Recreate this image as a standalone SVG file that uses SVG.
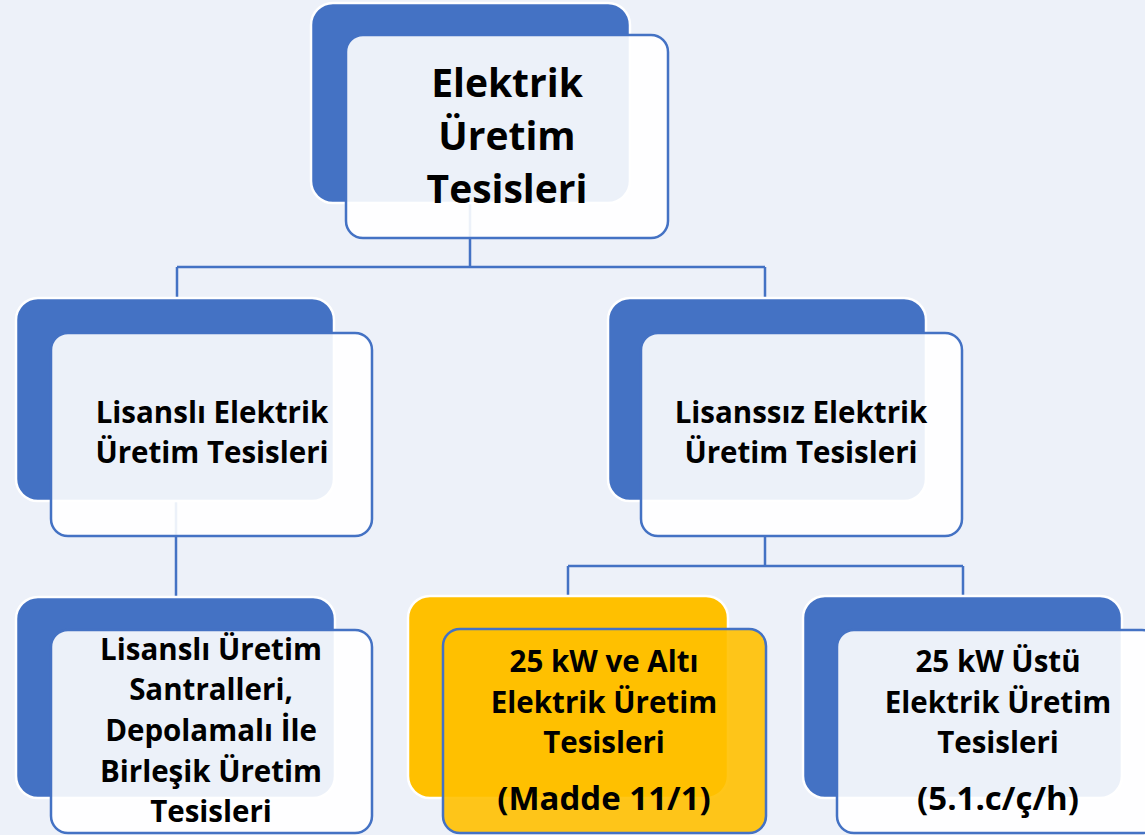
<svg xmlns="http://www.w3.org/2000/svg" width="1145" height="835" viewBox="0 0 1145 835">
<style>
.back{fill:#4472C4;stroke:#FFFFFF;stroke-width:2.5}
.backY{fill:#FFC000;stroke:#FFFFFF;stroke-width:2.5}
.front{fill:#FFFFFF;fill-opacity:0.9;stroke:#4472C4;stroke-width:2.5}
.frontY{fill:#FFC000;fill-opacity:0.9;stroke:#4472C4;stroke-width:2.5}
.conn{fill:none;stroke:#4472C4;stroke-width:2.5}
text{font-family:"Open Sans","Noto Sans","DejaVu Sans",sans-serif;font-weight:bold;fill:#000000;text-anchor:middle}
.big{font-size:39px}
.mid{font-size:29.5px}
.par{font-size:33px}
</style>
<rect width="1145" height="835" fill="#EDF1F9"/>
<g id="connectors">
<path class="conn" d="M470 203 V267 M177 267 H765 M177 267 V298 M765 267 V298"/>
<path class="conn" d="M176 500 V597"/>
<path class="conn" d="M765 536 V566 M568 566 H963 M568 566 V596 M963 566 V596"/>
</g>
<g id="node-root">
<rect class="back" x="311" y="3" width="319" height="200" rx="22"/>
<rect class="front" x="346" y="35" width="322" height="203" rx="17"/>
<text class="big" x="507" y="97">Elektrik</text>
<text class="big" x="507" y="150">Üretim</text>
<text class="big" x="507" y="203">Tesisleri</text>
</g>
<g id="node-lisansli">
<rect class="back" x="16" y="298" width="318" height="203" rx="22"/>
<rect class="front" x="51" y="333" width="321" height="203" rx="17"/>
<text class="mid" x="212" y="423">Lisanslı Elektrik</text>
<text class="mid" x="212" y="463">Üretim Tesisleri</text>
</g>
<g id="node-lisanssiz">
<rect class="back" x="608" y="298" width="318" height="203" rx="22"/>
<rect class="front" x="641" y="333" width="321" height="203" rx="17"/>
<text class="mid" x="801" y="423">Lisanssız Elektrik</text>
<text class="mid" x="801" y="463">Üretim Tesisleri</text>
</g>
<g id="node-santraller">
<rect class="back" x="16" y="597" width="319" height="201" rx="22"/>
<rect class="front" x="51" y="630" width="321" height="203" rx="17"/>
<text class="mid" x="211" y="660">Lisanslı Üretim</text>
<text class="mid" x="211" y="700">Santralleri,</text>
<text class="mid" x="211" y="741">Depolamalı İle</text>
<text class="mid" x="211" y="782">Birleşik Üretim</text>
<text class="mid" x="211" y="822">Tesisleri</text>
</g>
<g id="node-25alti">
<rect class="backY" x="408" y="596" width="320" height="202" rx="22"/>
<rect class="frontY" x="443" y="629" width="323" height="204" rx="17"/>
<text class="mid" x="604" y="672">25 kW ve Altı</text>
<text class="mid" x="604" y="713">Elektrik Üretim</text>
<text class="mid" x="604" y="753">Tesisleri</text>
<text class="par" x="604" y="810">(Madde 11/1)</text>
</g>
<g id="node-25ustu">
<rect class="back" x="803" y="596" width="319" height="202" rx="22"/>
<rect class="front" x="837" y="630" width="322" height="203" rx="17"/>
<text class="mid" x="998" y="672">25 kW Üstü</text>
<text class="mid" x="998" y="713">Elektrik Üretim</text>
<text class="mid" x="998" y="753">Tesisleri</text>
<text class="par" x="998" y="810">(5.1.c/ç/h)</text>
</g>
</svg>
